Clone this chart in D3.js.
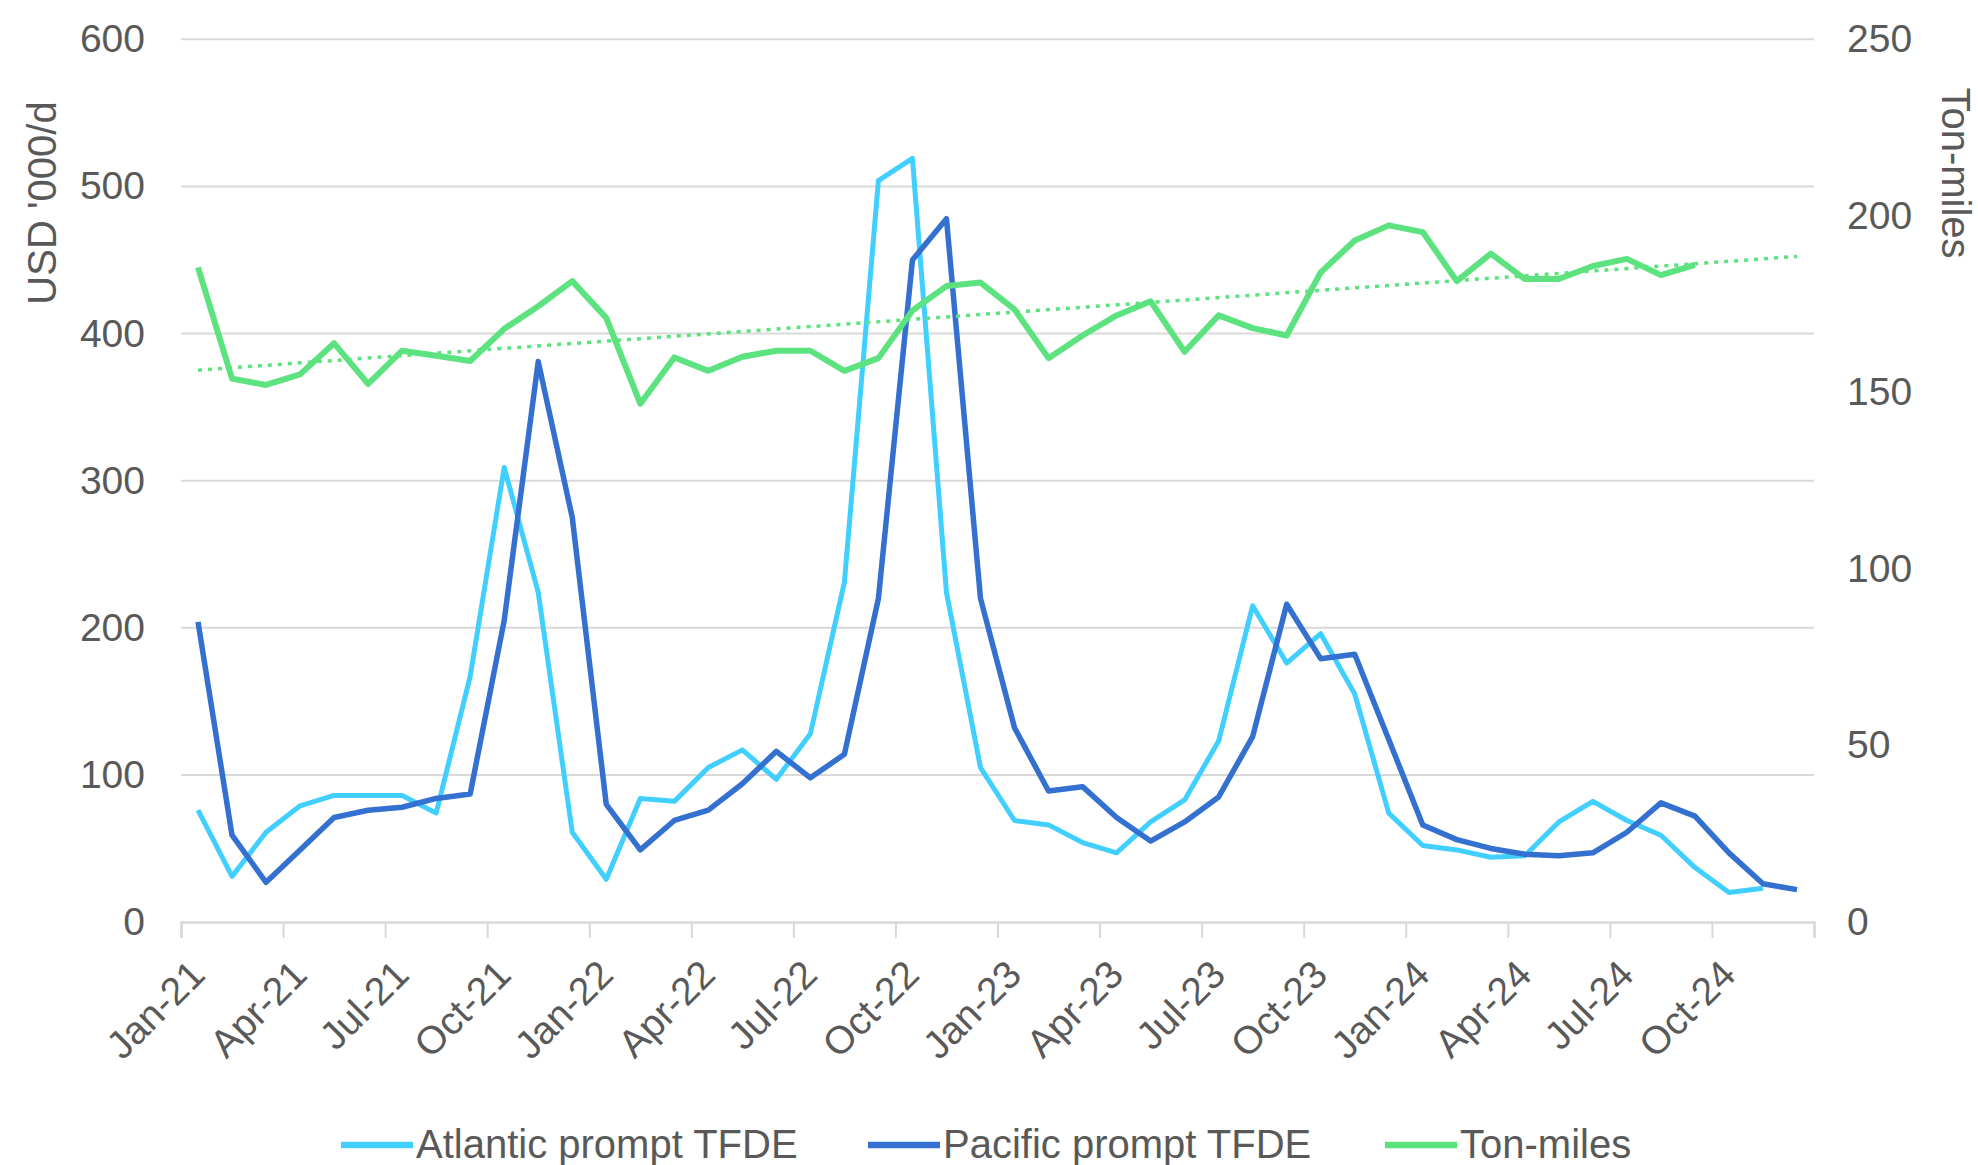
<!DOCTYPE html>
<html>
<head>
<meta charset="utf-8">
<script src="https://cdn.jsdelivr.net/npm/d3@7"></script>
<style>
  html, body { margin: 0; padding: 0; background: #ffffff; }
  svg { display: block; }
  text { font-family: "Liberation Sans", Arial, sans-serif; fill: #595959; }
</style>
</head>
<body>
<svg id="chart" width="1978" height="1165"></svg>
<script>
// ---------------- DATA ----------------
const months = [
  "Jan-21","Feb-21","Mar-21","Apr-21","May-21","Jun-21","Jul-21","Aug-21","Sep-21","Oct-21","Nov-21","Dec-21",
  "Jan-22","Feb-22","Mar-22","Apr-22","May-22","Jun-22","Jul-22","Aug-22","Sep-22","Oct-22","Nov-22","Dec-22",
  "Jan-23","Feb-23","Mar-23","Apr-23","May-23","Jun-23","Jul-23","Aug-23","Sep-23","Oct-23","Nov-23","Dec-23",
  "Jan-24","Feb-24","Mar-24","Apr-24","May-24","Jun-24","Jul-24","Aug-24","Sep-24","Oct-24","Nov-24","Dec-24"
];
const tickLabels = ["Jan-21","Apr-21","Jul-21","Oct-21","Jan-22","Apr-22","Jul-22","Oct-22",
                    "Jan-23","Apr-23","Jul-23","Oct-23","Jan-24","Apr-24","Jul-24","Oct-24"];
const atlantic = [76,31,61,79,86,86,86,74,167,309,224,61,
                  29,84,82,105,117,97,128,231,504,519,224,105,
                  69,66,54,47,68,83,123,215,176,196,155,74,
                  52,49,44,45,68,82,69,59,37,20,23,null];
const pacific  = [204,59,27,49,71,76,78,84,87,205,381,275,
                  80,49,69,76,94,116,98,114,220,450,478,220,
                  132,89,92,71,55,68,85,126,216,179,182,124,
                  66,56,50,46,45,47,61,81,72,47,26,22];
const tonMiles = [185.4,153.9,152.1,155.1,163.9,152.4,161.8,160.4,158.9,168.0,174.4,181.5,
                  171.1,146.8,159.9,156.1,160.1,161.8,161.8,156.1,159.7,173.2,180.1,181.1,
                  173.5,159.7,166.1,171.8,175.8,161.5,171.8,168.2,166.1,184.0,193.0,197.3,
                  195.4,181.5,189.3,182.1,182.1,185.8,187.8,183.2,186.1,null,null,null];
const trendMonths = ["Jan-21","Dec-24"];
const trendValues = [156.3, 188.5];
const leftTicks = [0,100,200,300,400,500,600];
const rightTicks = [0,50,100,150,200,250];
const seriesNames = ["Atlantic prompt TFDE","Pacific prompt TFDE","Ton-miles"];
const seriesColors = ["#40CFFF","#3370D0","#5CE27F"];

// ---------------- LAYOUT ----------------
const svg = d3.select("#chart");
const pL = 181, pR = 1814, pT = 39.3, pB = 922;

const x = d3.scaleBand().domain(months).range([pL, pR]).padding(0);
const xc = m => x(m) + x.bandwidth() / 2;
const xIdx = d3.scaleLinear().domain([0, months.length]).range([pL, pR]);
const yL = d3.scaleLinear().domain([0, 600]).range([pB, pT]);
const yR = d3.scaleLinear().domain([0, 250]).range([pB, pT]);

// gridlines
svg.append("g").selectAll("line").data(leftTicks.filter(d => d > 0)).join("line")
  .attr("x1", pL).attr("x2", pR)
  .attr("y1", d => yL(d)).attr("y2", d => yL(d))
  .attr("stroke", "#d9d9d9").attr("stroke-width", 2);

// bottom axis (ticks between categories every 3 months)
const xAxis = svg.append("g").attr("transform", `translate(0,${pB})`)
  .call(d3.axisBottom(xIdx).tickValues(d3.range(0, months.length + 1, 3)).tickSize(16).tickFormat(""));
xAxis.select(".domain").attr("stroke", "#d9d9d9").attr("stroke-width", 2.5);
xAxis.selectAll(".tick line").attr("stroke", "#d9d9d9").attr("stroke-width", 2);

// x tick labels
svg.append("g").selectAll("text").data(tickLabels).join("text")
  .attr("transform", d => `translate(${xc(d) + 9},${pB + 55}) rotate(-45)`)
  .attr("text-anchor", "end")
  .style("font-size", "39px")
  .text(d => d);

// left axis
const yAxisL = svg.append("g").attr("transform", `translate(${pL},0)`)
  .call(d3.axisLeft(yL).tickValues(leftTicks).tickSize(0).tickPadding(36));
yAxisL.select(".domain").remove();
yAxisL.selectAll("text").style("font-size", "39px").style("font-family", "'Liberation Sans', Arial, sans-serif").attr("fill", "#595959");

// right axis
const yAxisR = svg.append("g").attr("transform", `translate(${pR},0)`)
  .call(d3.axisRight(yR).tickValues(rightTicks).tickSize(0).tickPadding(33));
yAxisR.select(".domain").remove();
yAxisR.selectAll("text").style("font-size", "39px").style("font-family", "'Liberation Sans', Arial, sans-serif").attr("fill", "#595959");

// axis titles
svg.append("text").attr("transform", "translate(56,203) rotate(-90)")
  .attr("text-anchor", "middle").style("font-size", "40px").text("USD '000/d");
svg.append("text").attr("transform", "translate(1942,173) rotate(90)")
  .attr("text-anchor", "middle").style("font-size", "40px").text("Ton-miles");

// lines
const lineL = d3.line().defined(d => d.v != null).x(d => xc(d.m)).y(d => yL(d.v));
const lineR = d3.line().defined(d => d.v != null).x(d => xc(d.m)).y(d => yR(d.v));
const pack = arr => months.map((m, i) => ({ m, v: arr[i] }));

svg.append("path").datum(pack(atlantic)).attr("d", lineL)
  .attr("fill", "none").attr("stroke", seriesColors[0]).attr("stroke-width", 5).attr("stroke-linejoin", "round");
svg.append("path").datum(pack(pacific)).attr("d", lineL)
  .attr("fill", "none").attr("stroke", seriesColors[1]).attr("stroke-width", 5.5).attr("stroke-linejoin", "round");
svg.append("path").datum(pack(tonMiles)).attr("d", lineR)
  .attr("fill", "none").attr("stroke", seriesColors[2]).attr("stroke-width", 6).attr("stroke-linejoin", "round");
svg.append("path").datum(trendMonths.map((m, i) => ({ m, v: trendValues[i] }))).attr("d", lineR)
  .attr("fill", "none").attr("stroke", seriesColors[2]).attr("stroke-width", 3.5).attr("stroke-dasharray", "4,6");

// legend
const legendItems = [
  { name: seriesNames[0], color: seriesColors[0], x0: 341 },
  { name: seriesNames[1], color: seriesColors[1], x0: 868 },
  { name: seriesNames[2], color: seriesColors[2], x0: 1385 }
];
const lg = svg.append("g").selectAll("g").data(legendItems).join("g")
  .attr("transform", d => `translate(${d.x0},1145)`);
lg.append("line").attr("x1", 0).attr("x2", 72).attr("y1", 0).attr("y2", 0)
  .attr("stroke", d => d.color).attr("stroke-width", 6.5);
lg.append("text").attr("x", 75).attr("y", 13).style("font-size", "40px").text(d => d.name);
</script>
</body>
</html>
